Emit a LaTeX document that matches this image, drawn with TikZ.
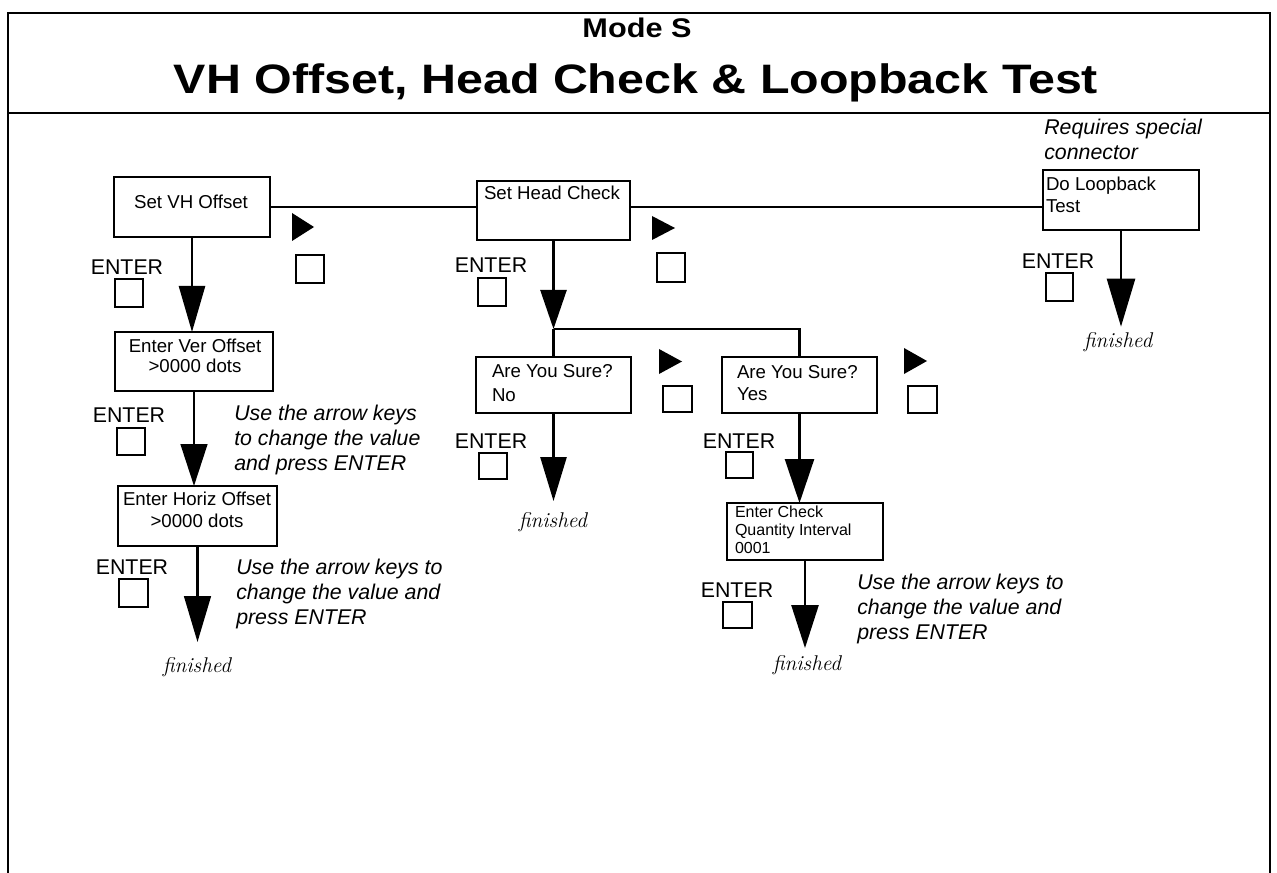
\documentclass[tikz,border=0pt]{standalone}
\usepackage{fontspec}
\setsansfont{Liberation Sans}
\usetikzlibrary{arrows.meta}
\begin{document}
\begin{tikzpicture}[x=0.75pt,y=-0.75pt,
  frame/.style={line width=2.2pt},
  panel/.style={draw,line width=1.9pt,inner sep=0pt,outer sep=0pt},
  boxtxt/.style={font=\sffamily\fontsize{14}{16.5}\selectfont,inner sep=0pt,outer sep=0pt},
  smalltxt/.style={font=\sffamily\fontsize{12}{13.5}\selectfont,inner sep=0pt,outer sep=0pt},
  enterlbl/.style={font=\sffamily\fontsize{16}{18}\selectfont,inner sep=0pt,anchor=base},
  note/.style={font=\sffamily\itshape\fontsize{16}{18.75}\selectfont,inner sep=0pt,anchor=base west,align=left},
  fin/.style={font=\rmfamily\itshape\fontsize{16}{18}\selectfont,inner sep=0pt,anchor=base},
  keysq/.style={draw,line width=1.7pt},
  playtri/.style={fill=black},
  flow/.style={line width=1.9pt},
  bigarrow/.style 2 args={line width=1.9pt,-{Triangle[length=#1,width=#2]}}
]
\useasboundingbox (0,0) rectangle (1277,873);

% frame
\draw[frame] (8,873) -- (8,13) -- (1270,13) -- (1270,873);
\draw[frame] (8,113) -- (1270,113);
\node[font=\sffamily\bfseries\fontsize{23}{26}\selectfont,inner sep=0pt,anchor=base] (mode) at (637,38) {\scalebox{1}[0.88]{Mode S}};
\node[font=\sffamily\bfseries\fontsize{36.3}{40}\selectfont,inner sep=0pt,anchor=base] (title) at (636,94) {\scalebox{1}[0.85]{VH Offset, Head Check \& Loopback Test}};

% panels
\node[panel,minimum width=117pt,minimum height=45pt] (vh) at (192,207) {};
\node[panel,minimum width=114.75pt,minimum height=44.25pt] (hc) at (553.5,210.5) {};
\node[panel,minimum width=117pt,minimum height=45pt] (lb) at (1121,200) {};
\node[panel,minimum width=118.5pt,minimum height=44.25pt] (ver) at (194,361.5) {};
\node[panel,minimum width=119.25pt,minimum height=45pt] (hor) at (197.5,516) {};
\node[panel,minimum width=116.25pt,minimum height=42pt] (no) at (553.5,385) {};
\node[panel,minimum width=116.25pt,minimum height=42pt] (yes) at (799.5,385) {};
\node[panel,minimum width=117pt,minimum height=42.75pt] (chk) at (805,531.5) {};

% panel texts (multi-line nodes are placed by the baseline of their last line)
\node[boxtxt,anchor=base] (tvh) at (191,209) {Set VH Offset};
\node[boxtxt,anchor=base west] (thc) at (484,200) {Set Head Check};
\node[boxtxt,anchor=base west,align=left] (tlb) at (1046,213) {Do Loopback\\Test};
\node[boxtxt,font=\sffamily\fontsize{14}{15}\selectfont,anchor=base,align=center] (tver) at (195,373) {Enter Ver Offset\\>0000 dots};
\node[boxtxt,anchor=base,align=center] (thor) at (197,527) {Enter Horiz Offset\\>0000 dots};
\node[boxtxt,font=\sffamily\fontsize{14}{18}\selectfont,anchor=base west,align=left] (tno) at (492,402) {Are You Sure?\\No};
\node[boxtxt,anchor=base west,align=left] (tyes) at (737,400) {Are You Sure?\\Yes};
\node[smalltxt,anchor=base west,align=left] (tchk) at (735,553) {Enter Check\\Quantity Interval\\0001};

% horizontal menu line
\draw[flow] (vh.east) -- (vh.east -| hc.west);
\draw[flow] (hc.east |- vh.east) -- (vh.east -| lb.west);

% finished labels
\node[fin] (f1) at (197,672) {finished};
\node[fin] (f2) at (553,527) {finished};
\node[fin] (f3) at (807,670) {finished};
\node[fin] (f4) at (1118,348) {finished};

% arrows
\draw[bigarrow={34.5pt}{19.5pt}] (vh.south) -- (vh.south |- ver.north);
\draw[bigarrow={31.5pt}{20pt}] (ver.south) -- (ver.south |- hor.north);
\draw[bigarrow={34.5pt}{20pt},shorten >=11pt] (hor.south) -- (hor.south |- f1.north);
\path (hc.south) ++(0,89) coordinate (split);
\draw[bigarrow={29.25pt}{19.5pt}] (hc.south) -- (split);
\draw[flow] (split) -- (split |- no.north);
\draw[flow] (split) -| (yes.north);
\draw[bigarrow={33pt}{19.5pt},shorten >=8pt] (no.south) -- (no.south |- f2.north);
\draw[bigarrow={33pt}{21.75pt}] (yes.south) -- (yes.south |- chk.north);
\draw[bigarrow={32.25pt}{20.25pt},shorten >=5pt] (chk.south) -- (chk.south |- f3.north);
\draw[bigarrow={36pt}{21pt},shorten >=4.5pt] (lb.south) -- (lb.south |- f4.north);

% ENTER labels
\node[enterlbl] (e1) at (127,275) {ENTER};
\node[enterlbl] (e2) at (129,422) {ENTER};
\node[enterlbl] (e3) at (132,574) {ENTER};
\node[enterlbl] (e4) at (491,273) {ENTER};
\node[enterlbl] (e5) at (1058,269) {ENTER};
\node[enterlbl] (e6) at (491,448) {ENTER};
\node[enterlbl] (e7) at (739,448) {ENTER};
\node[enterlbl] (e8) at (737,597) {ENTER};

% key squares
\draw[keysq] (115,279) rectangle (143,307);
\draw[keysq] (117,428) rectangle (145,455);
\draw[keysq] (119,579) rectangle (148,607);
\draw[keysq] (478,278) rectangle (506,306);
\draw[keysq] (1046,273) rectangle (1073,301);
\draw[keysq] (479,453) rectangle (507,479);
\draw[keysq] (726,452) rectangle (753,478);
\draw[keysq] (723,602) rectangle (752,628);
\draw[keysq] (296,255) rectangle (324,283);
\draw[keysq] (657,253) rectangle (685,282);
\draw[keysq] (663,386) rectangle (692,412);
\draw[keysq] (908,386) rectangle (937,413);

% play triangles
\fill[playtri] (292,213) -- (314,227) -- (292,241) -- cycle;
\fill[playtri] (652,216) -- (675,228) -- (652,240) -- cycle;
\fill[playtri] (659,349) -- (682,361.5) -- (659,374) -- cycle;
\fill[playtri] (904,348) -- (927,361) -- (904,374) -- cycle;

% notes
\node[note] (n1) at (234,470) {Use the arrow keys\\to change the value\\and press ENTER};
\node[note] (n2) at (236,624) {Use the arrow keys to\\change the value and\\press ENTER};
\node[note] (n3) at (857,639) {Use the arrow keys to\\change the value and\\press ENTER};
\node[note] (n4) at (1044,160) {Requires special\\connector};
\end{tikzpicture}
\end{document}
